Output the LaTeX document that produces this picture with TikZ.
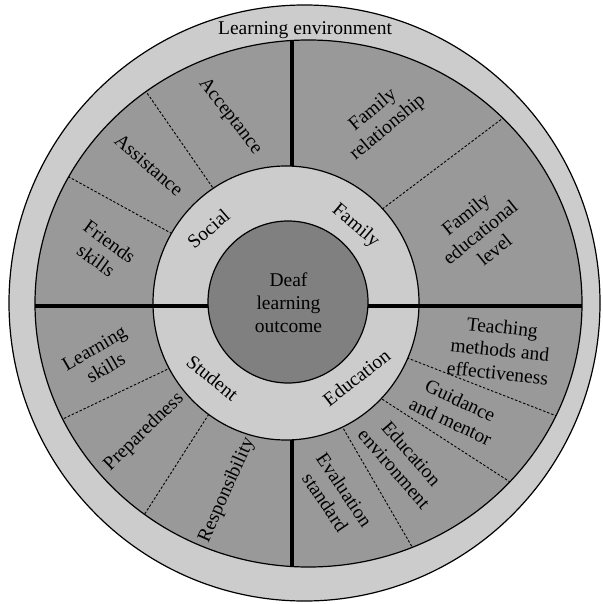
\documentclass[tikz,border=0pt]{standalone}
\usepackage{fontspec}
\setmainfont{Liberation Serif}
\usetikzlibrary{calc}
\definecolor{ringlight}{gray}{0.8}
\definecolor{ringdark}{gray}{0.6}
\definecolor{corefill}{gray}{0.5}
\begin{document}
\begin{tikzpicture}[x=1pt,y=-1pt,
  lbl/.style={font=\fontsize{19.5}{23}\selectfont, align=center, inner sep=0pt},
  rim/.style={line width=1.2pt},
  divider/.style={line width=0.9pt, dash pattern=on 2.5pt off 1.8pt},
  bar/.style={line width=3.5pt}]
\useasboundingbox (0,0) rectangle (602,604);
% rings
\draw[rim, fill=ringlight] (304.5,303) ellipse [x radius=295.5pt, y radius=298pt];
\coordinate (dc) at (308.5,303.5);
\draw[rim, fill=ringdark] (dc) ellipse [x radius=273.5pt, y radius=263.5pt];
% dashed dividers
\coordinate (d1a) at (213,188); \coordinate (d1b) at (147,93);
\coordinate (d2a) at (169,232); \coordinate (d2b) at (69,177);
\coordinate (d3a) at (385,207); \coordinate (d3b) at (503,118);
\coordinate (d4a) at (410,359); \coordinate (d4b) at (554,415);
\coordinate (d5a) at (385,401); \coordinate (d5b) at (507,480);
\coordinate (d6a) at (343,428); \coordinate (d6b) at (411,545);
\coordinate (d7a) at (168,369); \coordinate (d7b) at (65,418);
\coordinate (d8a) at (207,417); \coordinate (d8b) at (146,512);
\begin{scope}
  \clip (dc) ellipse [x radius=273.5pt, y radius=263.5pt];
  \foreach \i in {1,...,8}
    \draw[divider] ($(d\i a)!-12pt!(d\i b)$) -- ($(d\i b)!-12pt!(d\i a)$);
\end{scope}
% vertical bars
\coordinate (vt1) at (292,40.5); \coordinate (vt2) at (292,166);
\coordinate (vb1) at (292,440); \coordinate (vb2) at (292,567);
\draw[bar] (vt1) -- (vt2);
\draw[bar] (vb1) -- (vb2);
% inner light ring
\draw[rim, fill=ringlight] (286,303) ellipse [x radius=133pt, y radius=137pt];
% horizontal bar
\coordinate (hl) at (35,306); \coordinate (hr) at (582,306);
\draw[bar] (hl) -- (hr);
% core
\draw[rim, fill=corefill] (288,302) ellipse [x radius=80pt, y radius=81pt];
\node[lbl] (deaf) at (288.5,303) {Deaf\\learning\\outcome};
% labels
\node[lbl] (env) at (305,30) {Learning environment};
\node[lbl, rotate=-52] (accept) at (230,116.5) {Acceptance};
\node[lbl, rotate=-41] (assist) at (149,165) {Assistance};
\node[lbl, rotate=-36] (friends) at (103,251) {Friends\\skills};
\node[lbl, rotate=41] (social) at (208.5,228.5) {Social};
\node[lbl, rotate=-40] (family) at (355.5,226) {Family};
\node[lbl, rotate=40] (famrel) at (380.5,119) {Family\\relationship};
\node[lbl, rotate=39] (famedu) at (480,232) {Family\\educational\\level};
\node[lbl, rotate=-6] (teach) at (500,350) {Teaching\\methods and\\effectiveness};
\node[lbl, rotate=-25] (guide) at (455.5,411) {Guidance\\and mentor};
\node[lbl, rotate=-49] (eduenv) at (403,461) {Education\\environment};
\node[lbl, rotate=-56] (evalstd) at (335,496) {Evaluation\\standard};
\node[lbl, rotate=66] (respons) at (227,490) {Responsibility};
\node[lbl, rotate=44] (prep) at (144,432) {Preparedness};
\node[lbl, rotate=30] (learnsk) at (100,358) {Learning\\skills};
\node[lbl, rotate=-39] (student) at (212.5,378) {Student};
\node[lbl, rotate=38] (eduin) at (356.5,377.5) {Education};
\end{tikzpicture}
\end{document}
